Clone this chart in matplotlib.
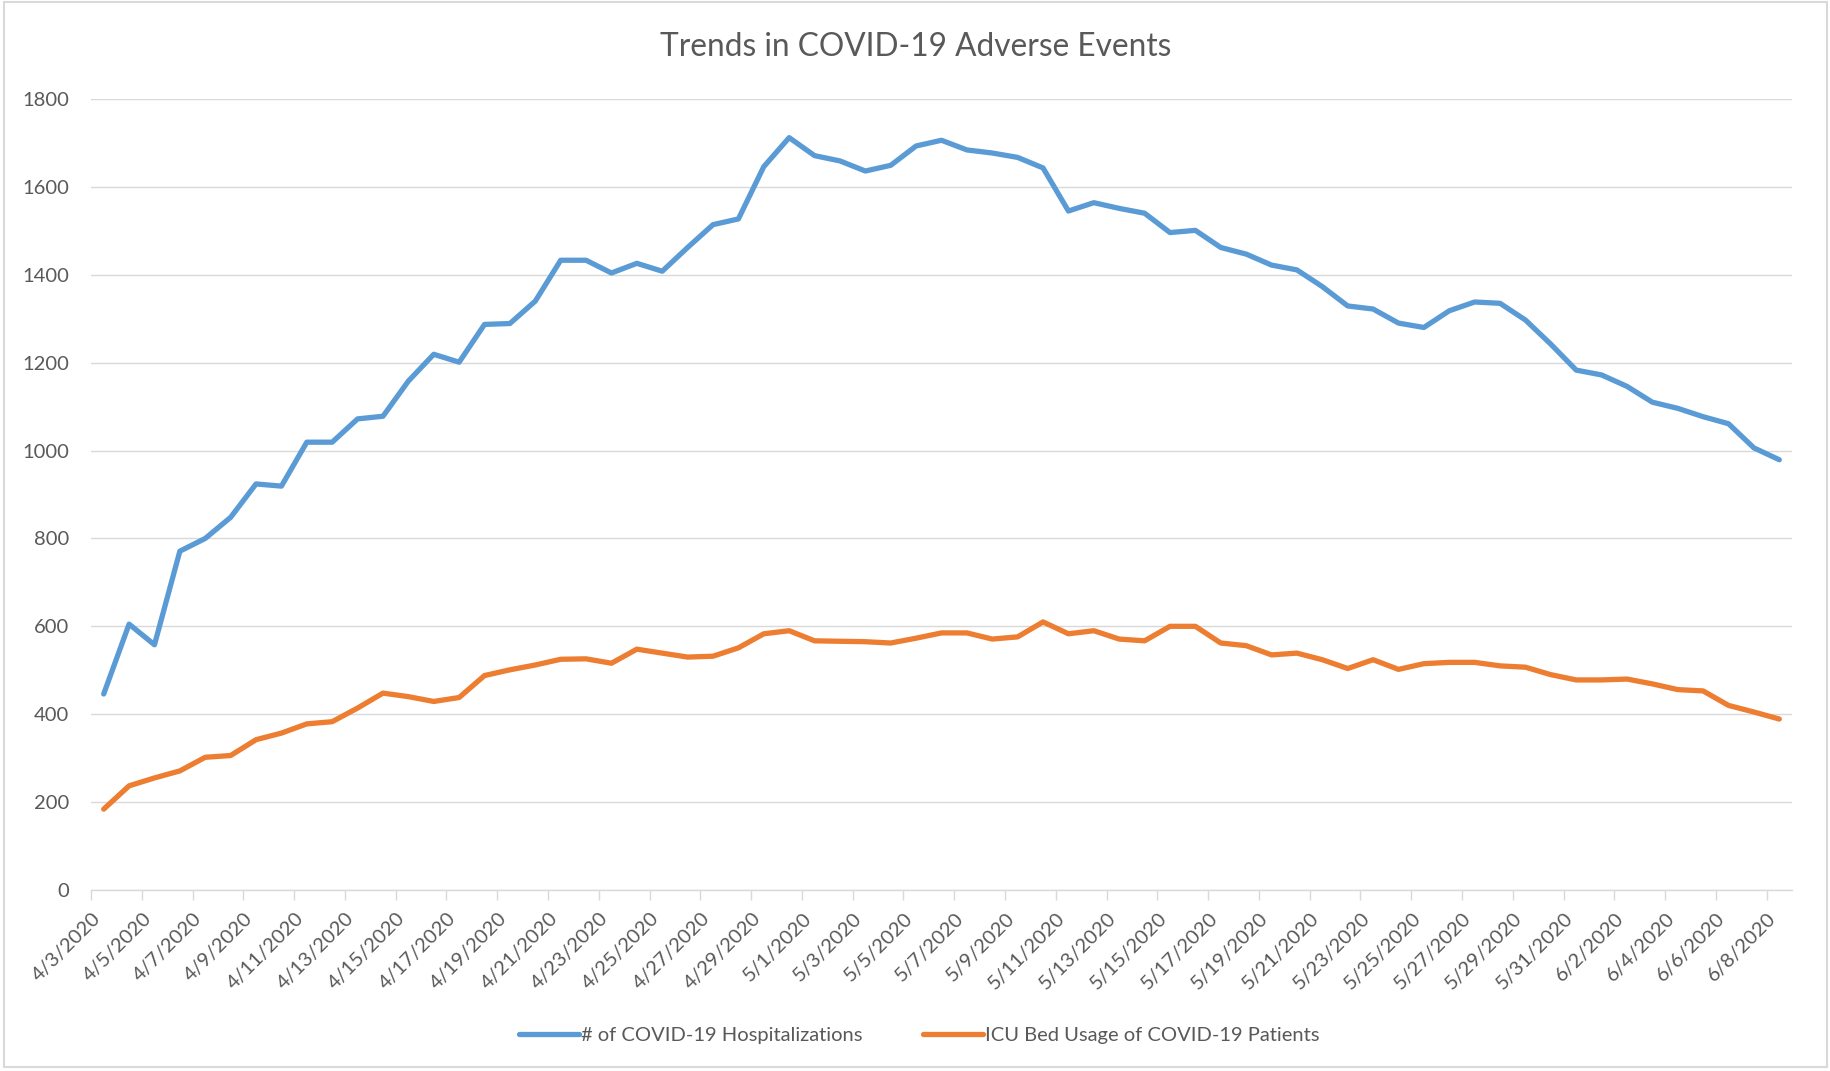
import matplotlib
matplotlib.use("Agg")
import matplotlib.pyplot as plt
import matplotlib.patches as patches
import pandas as pd

plt.rcParams['font.family'] = ['Lato', 'DejaVu Sans']

# daily categories 4/3/2020 .. 6/8/2020
dates = pd.date_range('2020-04-03', '2020-06-08', freq='D')
date_labels = [f"{d.month}/{d.day}/{d.year}" for d in dates]

hospitalizations = [
    446, 605, 558, 771, 800, 848, 924, 919, 1019, 1019,
    1072, 1078, 1158, 1219, 1201, 1287, 1289, 1340, 1433, 1433,
    1404, 1426, 1408, 1462, 1514, 1527, 1646, 1712, 1671, 1659,
    1636, 1649, 1693, 1706, 1684, 1677, 1667, 1643, 1545, 1564,
    1551, 1540, 1496, 1501, 1462, 1447, 1422, 1411, 1373, 1329,
    1322, 1290, 1280, 1318, 1338, 1335, 1297, 1242, 1183, 1172,
    1146, 1110, 1096, 1077, 1061, 1006, 979,
]

icu_beds = [
    184, 237, 255, 271, 302, 306, 342, 357, 378, 383,
    414, 448, 440, 429, 438, 488, 501, 512, 525, 526,
    516, 548, 539, 530, 532, 551, 583, 590, 567, 566,
    565, 562, 573, 585, 585, 571, 576, 610, 583, 590,
    571, 567, 600, 600, 562, 556, 535, 539, 524, 504,
    524, 502, 515, 518, 518, 510, 507, 490, 478, 478,
    480, 469, 456, 453, 420, 405, 389,
]

blue = '#5B9BD5'
orange = '#ED7D31'
grid_col = '#D9D9D9'
text_col = '#595959'

fig = plt.figure(figsize=(18.31, 10.71), dpi=100)
ax = fig.add_axes([0.0497, 0.169, 0.929, 0.7386])

x = list(range(len(dates)))
ax.plot(x, hospitalizations, color=blue, lw=3.8, solid_joinstyle='round',
        solid_capstyle='round', label='# of COVID-19 Hospitalizations')
ax.plot(x, icu_beds, color=orange, lw=3.8, solid_joinstyle='round',
        solid_capstyle='round', label='ICU Bed Usage of COVID-19 Patients')

ax.set_xlim(-0.5, len(dates) - 0.5)
ax.set_ylim(0, 1800)
ax.set_yticks(range(0, 1801, 200))
ax.grid(axis='y', color=grid_col, lw=1.0)
ax.set_axisbelow(True)

for s in ['top', 'right', 'left']:
    ax.spines[s].set_visible(False)
ax.spines['bottom'].set_color(grid_col)
ax.spines['bottom'].set_linewidth(1.0)

# tick marks between categories, labels every second day
ax.set_xticks([i - 0.5 for i in range(0, len(dates), 2)])
ax.set_xticks(x[::2], minor=True)
ax.set_xticklabels([])
ax.set_xticklabels(date_labels[::2], minor=True, rotation=45, ha='right', va='top')
ax.tick_params(axis='x', which='major', length=7, width=1.0, color=grid_col)
ax.tick_params(axis='x', which='minor', length=0, pad=14, labelsize=14.5, labelcolor=text_col)
ax.tick_params(axis='y', length=0, pad=16, labelsize=14.5, labelcolor=text_col)

fig.text(0.5, 0.956, 'Trends in COVID-19 Adverse Events', ha='center', va='center',
         fontsize=22.8, color=text_col)

fig.legend(loc='center', bbox_to_anchor=(0.502, 0.033), ncol=2, frameon=False,
           fontsize=14.5, handlelength=3.0, handletextpad=0.1, columnspacing=3.0,
           labelcolor=text_col)

# chart border
fig.patches.append(patches.Rectangle((0.002, 0.004), 0.996, 0.994, transform=fig.transFigure,
                                     fill=False, edgecolor=grid_col, lw=1.5))

fig.savefig('out.png', dpi=100)
